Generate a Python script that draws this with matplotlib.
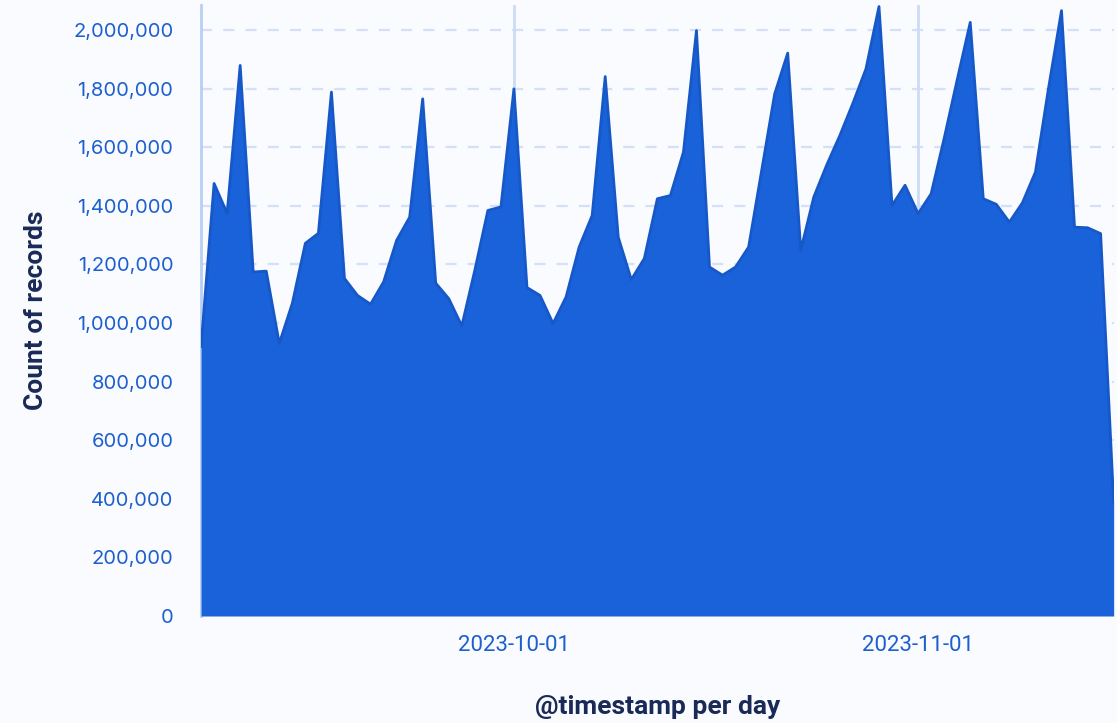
import numpy as np
import pandas as pd
import matplotlib
matplotlib.use("Agg")
from matplotlib import pyplot as plt
from matplotlib.ticker import FuncFormatter
import matplotlib.dates as mdates

# daily counts, 2023-09-07 .. 2023-11-16 (values in millions)
startDay = "2023-09-07"
counts = [
    0.92, 1.476, 1.374, 1.879, 1.174, 1.177, 0.93,
    1.067, 1.272, 1.306, 1.788, 1.152, 1.094, 1.064,
    1.140, 1.282, 1.361, 1.765, 1.136, 1.083, 0.99,
    1.180, 1.384, 1.396, 1.799, 1.121, 1.094, 0.998,
    1.089, 1.259, 1.367, 1.841, 1.293, 1.148, 1.220,
    1.424, 1.435, 1.583, 1.998, 1.191, 1.163, 1.191,
    1.259, 1.52, 1.782, 1.921, 1.248, 1.43, 1.54,
    1.64, 1.75, 1.867, 2.08, 1.401, 1.470, 1.373,
    1.441, 1.63, 1.83, 2.026, 1.424, 1.405, 1.344,
    1.41, 1.515, 1.80, 2.066, 1.327, 1.325, 1.305,
    0.39,
]
tickDays = ["2023-10-01", "2023-11-01"]
yTicks = [0, 200000, 400000, 600000, 800000, 1000000, 1200000,
          1400000, 1600000, 1800000, 2000000]

days = pd.date_range(startDay, periods=len(counts), freq="D")
values = np.array(counts) * 1e6

bg = "#f9fbfe"
fillColor = "#1a62d9"
edgeColor = "#1758c8"
tickColor = "#1d5fcf"
labelColor = "#1a2a57"

fig = plt.figure(figsize=(11.17, 7.23), dpi=100, facecolor=bg)
ax = fig.add_axes([0.180, 0.148, 0.817, 0.845])
ax.set_facecolor(bg)

ax.fill_between(days, 0, values, color=fillColor, linewidth=0, zorder=3)
ax.plot(days, values, color=edgeColor, linewidth=2, zorder=4)

ax.set_xlim(days[0], days[-1])
ax.set_ylim(0, 2.085e6)

# grid
ax.set_yticks(yTicks)
ax.yaxis.set_major_formatter(FuncFormatter(lambda v, p: f"{int(v):,}"))
for y in yTicks[1:]:
    ax.axhline(y, color="#d3e0f7", linewidth=1.6, linestyle=(0, (5, 5)), zorder=1)
tickDates = pd.to_datetime(tickDays)
for d in tickDates:
    ax.axvline(d, color="#cddcf5", linewidth=2, zorder=1)
ax.set_xticks(tickDates)
ax.xaxis.set_major_formatter(mdates.DateFormatter("%Y-%m-%d"))

for s in ["top", "right", "bottom"]:
    ax.spines[s].set_visible(False)
ax.spines["left"].set_color("#b9cff2")
ax.spines["left"].set_linewidth(2)

ax.tick_params(axis="y", length=0, pad=20, labelcolor=tickColor, labelsize=14.5)
ax.tick_params(axis="x", length=0, pad=14, labelcolor=tickColor, labelsize=16)
for lbl in ax.get_yticklabels():
    lbl.set_fontfamily("Inter")
for lbl in ax.get_xticklabels():
    lbl.set_fontfamily("Roboto")

ax.set_ylabel("Count of records", fontsize=19, fontweight="bold", color=labelColor,
              fontfamily="Roboto", labelpad=18)
ax.set_xlabel("@timestamp per day", fontsize=19, fontweight="bold", color=labelColor,
              fontfamily="Roboto", labelpad=28)

fig.savefig("out.png", dpi=100, facecolor=bg)
